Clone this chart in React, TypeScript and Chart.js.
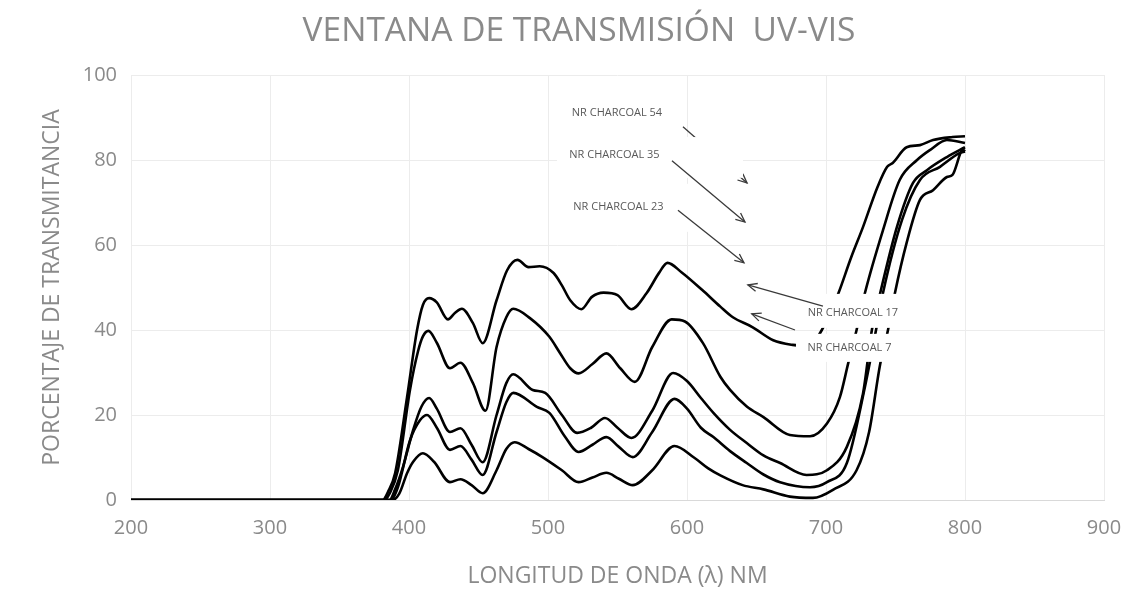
import React, { useEffect, useRef } from "react";
import { Chart, registerables } from "chart.js";

Chart.register(...registerables);

// ---------- data ----------
const nr7Wavelength = [200, 381, 385, 390, 398.6, 405.8, 410, 414.5, 420, 428, 433, 438, 446, 453, 463, 470.5, 478, 486, 494, 504, 510, 516, 524, 531.6, 540, 550, 560, 571, 580, 586, 596, 611, 624, 633, 647, 662, 676, 685, 692, 697, 703, 709, 718, 726.6, 737, 744, 748, 758, 767.6, 777, 791, 800];
const nr7Transmittance = [0, 0, 2, 6.3, 24.2, 40, 45.9, 47.5, 46.5, 42.5, 44, 45, 41.6, 36.9, 47, 54, 56.5, 54.8, 55, 53.4, 50.5, 47, 44.9, 47.8, 48.8, 48.2, 44.9, 48.7, 53.5, 55.8, 53.6, 49.4, 45.5, 43, 40.7, 37.6, 36.5, 36.3, 37.5, 40, 44, 48.7, 57, 64.2, 73.6, 78.4, 79.3, 83, 83.5, 84.7, 85.4, 85.6];

const nr17Wavelength = [200, 382, 386, 392, 400.7, 406.5, 410, 414, 420, 429.5, 437, 446, 455, 463, 470, 475, 487, 501, 508.6, 516, 522, 532, 542, 552, 562.5, 575, 589, 598.5, 611.5, 624, 631, 643, 655, 674, 688.5, 700.7, 710, 716, 722, 728, 741, 753, 765.5, 775, 787, 800];
const nr17Transmittance = [0, 0, 1.5, 7, 25.9, 35, 38.5, 39.8, 37, 31, 32.3, 27.5, 21, 36, 43, 45, 42.8, 38.4, 34.6, 31, 29.8, 32, 34.5, 31, 27.8, 36, 42.5, 42, 36.9, 29, 25.9, 22, 19.5, 15.3, 15, 18, 24.2, 32.2, 40, 48.7, 63.5, 75.3, 80, 82.4, 84.7, 84];

const nr23Wavelength = [200, 386, 390, 395.7, 403, 409, 414.5, 420, 429.5, 437, 445, 453, 463, 470, 475, 489, 498, 510, 521, 531, 541, 550, 560, 575, 590, 600, 610, 619, 631, 643, 655, 667, 686, 700.7, 715, 726.6, 733, 739, 751, 762.6, 772.6, 787, 800];
const nr23Transmittance = [0, 0, 2.5, 7.8, 16.5, 22, 24, 21.5, 16, 16.9, 13, 8.9, 20, 27.5, 29.6, 25.9, 25.2, 20, 15.8, 17, 19.3, 17, 14.6, 21, 29.9, 28, 24, 20.5, 16.5, 13.4, 10.5, 8.7, 5.9, 7, 12.5, 25, 40, 48.7, 64.2, 74.6, 77.6, 80.7, 83];

const nr35Wavelength = [200, 387, 392, 400.7, 408, 413, 420, 429.5, 437, 445, 453, 463, 470, 475, 492, 501, 512, 522, 532, 542, 551, 561, 575, 591, 600, 610, 619, 631, 643, 655, 667, 688.5, 700.7, 715, 728, 736, 741, 754.7, 767.6, 782, 796, 800];
const nr35Transmittance = [0, 0, 3, 14, 18.8, 20, 17, 11.8, 12.7, 9.5, 5.9, 16, 23, 25.2, 21.9, 20.5, 15, 11.3, 13, 14.8, 12.5, 10.1, 16, 23.8, 21.5, 17, 14.8, 11.5, 8.7, 6, 4.2, 3, 4.2, 8.7, 26.6, 40, 48.7, 65.9, 75.3, 78.4, 81.6, 82];

const nr54Wavelength = [200, 388, 393, 398.6, 403, 410, 418, 429.5, 437, 445, 453, 463, 470, 476, 486, 496, 510, 522, 532, 542, 551, 561, 575, 591, 605, 615, 624, 640, 655, 674, 690.6, 705, 722, 731, 739, 744.6, 749.6, 758, 767.6, 777, 787, 791, 798.6, 800];
const nr54Transmittance = [0, 0, 1.5, 6.3, 9, 11, 9, 4.2, 4.9, 3.5, 1.6, 7, 12, 13.6, 12, 10.1, 7, 4.2, 5.3, 6.4, 5, 3.5, 7, 12.7, 10, 7.5, 5.8, 3.5, 2.5, 0.8, 0.5, 2.4, 7, 16, 32, 40, 48.7, 60.5, 70.6, 72.9, 76, 76.5, 82.4, 82];

const seriesNames = ["NR CHARCOAL 7", "NR CHARCOAL 17", "NR CHARCOAL 23", "NR CHARCOAL 35", "NR CHARCOAL 54"];

// axis ranges / ticks
const xMin = 200;
const xMax = 900;
const xStep = 100;
const yMin = 0;
const yMax = 100;
const yStep = 20;

const chartTitle = "VENTANA DE TRANSMISIÓN  UV-VIS";
const xAxisTitle = "LONGITUD DE ONDA (λ) NM";
const yAxisTitle = "PORCENTAJE DE TRANSMITANCIA";

// callout labels (data units: nm, %)
const calloutTexts = ["NR CHARCOAL 54", "NR CHARCOAL 35", "NR CHARCOAL 23", "NR CHARCOAL 17", "NR CHARCOAL 7"];
const calloutNm = [549.6, 547.8, 550.7, 719.4, 716.9];
const calloutPct = [91.1, 81.2, 68.9, 44.0, 35.8];
const arrowFromNm = [597.1, 589.2, 593.5, 697.8, 677.7];
const arrowFromPct = [87.8, 79.8, 68.2, 45.6, 40.0];
const arrowToNm = [643.2, 641.7, 641.0, 643.8, 646.6];
const arrowToPct = [74.6, 65.4, 55.8, 50.6, 43.8];
// white label boxes that hide what lies under them
const boxNmLeft = [506.5, 506.5, 678.4, 678.4];
const boxNmRight = [640.3, 640.3, 757.5, 757.5];
const boxPctTop = [85.4, 74.4, 48.5, 39.1];
const boxPctBottom = [75.8, 63.1, 40.5, 32.5];

const FONT = "'Open Sans', 'Noto Sans', sans-serif";
const GREY = "#8a8a8a";

function drawArrow(ctx: CanvasRenderingContext2D, x1: number, y1: number, x2: number, y2: number) {
  ctx.beginPath();
  ctx.moveTo(x1, y1);
  ctx.lineTo(x2, y2);
  ctx.stroke();
  const ang = Math.atan2(y2 - y1, x2 - x1);
  const len = 10;
  const spread = 0.42;
  ctx.beginPath();
  ctx.moveTo(x2 - len * Math.cos(ang - spread), y2 - len * Math.sin(ang - spread));
  ctx.lineTo(x2, y2);
  ctx.lineTo(x2 - len * Math.cos(ang + spread), y2 - len * Math.sin(ang + spread));
  ctx.stroke();
}

const titlePlugin = {
  id: "offsetTitle",
  afterDraw(chart: any) {
    const { ctx } = chart;
    ctx.save();
    ctx.fillStyle = GREY;
    ctx.font = `33.5px ${FONT}`;
    ctx.textAlign = "center";
    ctx.textBaseline = "middle";
    ctx.fillText(chartTitle, 579, 31);
    ctx.restore();
  },
};

const calloutPlugin = {
  id: "callouts",
  afterDatasetsDraw(chart: any) {
    const { ctx } = chart;
    const xs = chart.scales.x;
    const ys = chart.scales.y;
    const px = (v: number) => xs.getPixelForValue(v);
    const py = (v: number) => ys.getPixelForValue(v);
    ctx.save();
    ctx.strokeStyle = "#3a3a3a";
    ctx.lineWidth = 1.3;
    // first arrow sits behind the other label boxes
    drawArrow(ctx, px(arrowFromNm[0]), py(arrowFromPct[0]), px(arrowToNm[0]), py(arrowToPct[0]));
    ctx.fillStyle = "#ffffff";
    for (let i = 0; i < boxNmLeft.length; i++) {
      const l = px(boxNmLeft[i]);
      const r = px(boxNmRight[i]);
      const t = py(boxPctTop[i]);
      const b = py(boxPctBottom[i]);
      ctx.fillRect(l, t, r - l, b - t);
    }
    for (let i = 1; i < arrowFromNm.length; i++) {
      drawArrow(ctx, px(arrowFromNm[i]), py(arrowFromPct[i]), px(arrowToNm[i]), py(arrowToPct[i]));
    }
    ctx.fillStyle = "#595959";
    ctx.font = `11px ${FONT}`;
    ctx.textAlign = "center";
    ctx.textBaseline = "middle";
    for (let i = 0; i < calloutTexts.length; i++) {
      ctx.fillText(calloutTexts[i], px(calloutNm[i]), py(calloutPct[i]));
    }
    ctx.restore();
  },
};

const allX = [nr7Wavelength, nr17Wavelength, nr23Wavelength, nr35Wavelength, nr54Wavelength];
const allY = [nr7Transmittance, nr17Transmittance, nr23Transmittance, nr35Transmittance, nr54Transmittance];

export default function App() {
  const ref = useRef<HTMLCanvasElement | null>(null);
  useEffect(() => {
    document.body.style.margin = "0";
    const canvas = ref.current;
    if (!canvas) return;
    const chart = new Chart(canvas, {
      type: "line",
      data: {
        datasets: seriesNames.map((name, i) => ({
          label: name,
          data: allX[i].map((x, j) => ({ x, y: allY[i][j] })),
          borderColor: "#000000",
          borderWidth: 2.6,
          pointRadius: 0,
          cubicInterpolationMode: "monotone" as const,
          fill: false,
        })),
      },
      options: {
        animation: false,
        responsive: false,
        maintainAspectRatio: false,
        layout: { padding: { left: 0, right: 22, top: 75, bottom: 0 } },
        plugins: {
          legend: { display: false },
          tooltip: { enabled: false },
          title: { display: false },
        },
        scales: {
          x: {
            type: "linear",
            min: xMin,
            max: xMax,
            ticks: {
              stepSize: xStep,
              color: GREY,
              font: { family: FONT, size: 20 },
              padding: 16,
              maxRotation: 0,
            },
            grid: { color: "#ececec", drawTicks: false, lineWidth: 1 },
            border: { display: true, color: "#d9d9d9" },
            title: {
              display: true,
              text: xAxisTitle,
              color: GREY,
              font: { family: FONT, size: 23, lineHeight: 1.2 },
              padding: { top: 0, bottom: 2.2 },
            },
            afterFit(scale: any) {
              scale.height = 92;
              scale.paddingLeft = 0;
              scale.paddingRight = 0;
            },
          },
          y: {
            min: yMin,
            max: yMax,
            ticks: {
              stepSize: yStep,
              color: GREY,
              font: { family: FONT, size: 20 },
              padding: 14,
            },
            grid: { color: "#ececec", drawTicks: false, lineWidth: 1 },
            border: { display: false },
            title: {
              display: true,
              text: yAxisTitle,
              color: GREY,
              font: { family: FONT, size: 23, lineHeight: 1.2 },
              padding: { top: 38.7, bottom: 0 },
            },
            afterFit(scale: any) {
              scale.width = 131;
            },
          },
        },
      },
      plugins: [calloutPlugin, titlePlugin],
    });
    return () => chart.destroy();
  }, []);
  return (
    <div style={{ width: 1126, height: 592, background: "#ffffff" }}>
      <canvas ref={ref} width={1126} height={592} />
    </div>
  );
}
